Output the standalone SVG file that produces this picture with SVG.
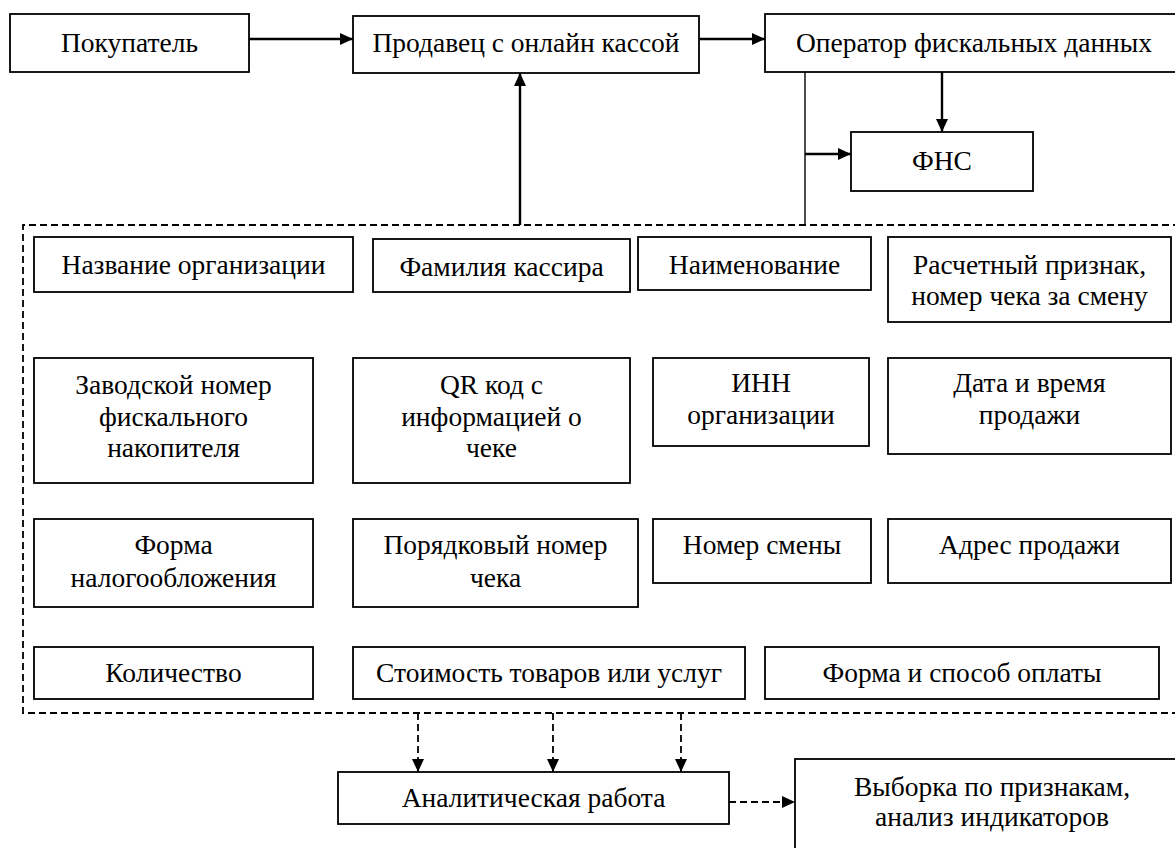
<svg xmlns="http://www.w3.org/2000/svg" width="1175" height="848" viewBox="0 0 1175 848">
<defs>
<style>
.box{fill:#fff;stroke:#000;stroke-width:1.8}
.t{font-family:'Liberation Serif','DejaVu Serif',serif;font-size:27.5px;fill:#000;text-anchor:middle}
.c{stroke:#000;stroke-width:2.4;fill:none}
.thin{stroke:#000;stroke-width:1.4;fill:none}
.d{stroke:#000;stroke-width:1.8;fill:none;stroke-dasharray:7 4}
</style>
<marker id="ah" viewBox="0 0 13 12" refX="13" refY="6" markerWidth="13" markerHeight="12" markerUnits="userSpaceOnUse" orient="auto">
<path d="M0,0 L13,6 L0,12 z" fill="#000"/>
</marker>
</defs>
<rect width="1175" height="848" fill="#fff"/>
<g id="connectors">
<path class="d" d="M1180,225 H23 V713 H1180"/>
<line class="c" x1="249" y1="39" x2="353" y2="39" marker-end="url(#ah)"/>
<line class="c" x1="699" y1="39" x2="765" y2="39" marker-end="url(#ah)"/>
<line class="c" x1="942" y1="72" x2="942" y2="132" marker-end="url(#ah)"/>
<line class="thin" x1="805" y1="72" x2="805" y2="225"/>
<line class="c" x1="805" y1="154" x2="851" y2="154" marker-end="url(#ah)"/>
<line class="c" x1="520" y1="225" x2="520" y2="73" marker-end="url(#ah)"/>
<line class="d" x1="418" y1="713" x2="418" y2="772" marker-end="url(#ah)"/>
<line class="d" x1="553" y1="713" x2="553" y2="772" marker-end="url(#ah)"/>
<line class="d" x1="681" y1="713" x2="681" y2="772" marker-end="url(#ah)"/>
<line class="d" x1="729" y1="802" x2="795" y2="802" marker-end="url(#ah)"/>
</g>
<g id="pokupatel"><rect class="box" x="10" y="14" width="239" height="58"/><text class="t" x="129.5" y="52">Покупатель</text></g>
<g id="prodavec"><rect class="box" x="353" y="16" width="346" height="57"/><text class="t" x="526" y="52">Продавец с онлайн кассой</text></g>
<g id="operator"><rect class="box" x="765" y="14" width="418" height="58"/><text class="t" x="974" y="52">Оператор фискальных данных</text></g>
<g id="fns"><rect class="box" x="851" y="132" width="182" height="59"/><text class="t" x="942" y="170">ФНС</text></g>
<g id="nazvanie"><rect class="box" x="34" y="237" width="319" height="55"/><text class="t" x="193.5" y="274">Название организации</text></g>
<g id="familiya"><rect class="box" x="373" y="239" width="257" height="53"/><text class="t" x="501.5" y="276">Фамилия кассира</text></g>
<g id="naimenovanie"><rect class="box" x="638" y="237" width="233" height="53"/><text class="t" x="754.5" y="274">Наименование</text></g>
<g id="raschetny"><rect class="box" x="888" y="237" width="283" height="85"/><text class="t" x="1029.5" y="274">Расчетный признак,</text><text class="t" x="1029.5" y="305">номер чека за смену</text></g>
<g id="zavodskoy"><rect class="box" x="34" y="358" width="279" height="125"/><text class="t" x="173.5" y="394">Заводской номер</text><text class="t" x="173.5" y="426">фискального</text><text class="t" x="173.5" y="457">накопителя</text></g>
<g id="qr"><rect class="box" x="353" y="358" width="277" height="125"/><text class="t" x="491.5" y="394">QR код с</text><text class="t" x="491.5" y="426">информацией о</text><text class="t" x="491.5" y="457">чеке</text></g>
<g id="inn"><rect class="box" x="653" y="358" width="216" height="88"/><text class="t" x="761" y="392">ИНН</text><text class="t" x="761" y="424">организации</text></g>
<g id="data"><rect class="box" x="888" y="358" width="283" height="96"/><text class="t" x="1029.5" y="392">Дата и время</text><text class="t" x="1029.5" y="424">продажи</text></g>
<g id="forma-nalog"><rect class="box" x="34" y="519" width="279" height="88"/><text class="t" x="173.5" y="554">Форма</text><text class="t" x="173.5" y="587">налогообложения</text></g>
<g id="poryadkovy"><rect class="box" x="353" y="519" width="285" height="88"/><text class="t" x="495.5" y="554">Порядковый номер</text><text class="t" x="495.5" y="587">чека</text></g>
<g id="nomer-smeny"><rect class="box" x="653" y="519" width="218" height="64"/><text class="t" x="762" y="554">Номер смены</text></g>
<g id="adres"><rect class="box" x="888" y="519" width="283" height="64"/><text class="t" x="1029.5" y="554">Адрес продажи</text></g>
<g id="kolichestvo"><rect class="box" x="34" y="647" width="279" height="52"/><text class="t" x="173.5" y="682">Количество</text></g>
<g id="stoimost"><rect class="box" x="353" y="647" width="392" height="52"/><text class="t" x="549" y="682">Стоимость товаров или услуг</text></g>
<g id="forma-oplaty"><rect class="box" x="765" y="647" width="394" height="52"/><text class="t" x="962" y="682">Форма и способ оплаты</text></g>
<g id="analitika"><rect class="box" x="338" y="772" width="391" height="52"/><text class="t" x="533.5" y="807">Аналитическая работа</text></g>
<g id="vyborka"><rect class="box" x="795" y="759" width="394" height="100"/><text class="t" x="992" y="796">Выборка по признакам,</text><text class="t" x="992" y="826">анализ индикаторов</text></g>
</svg>
